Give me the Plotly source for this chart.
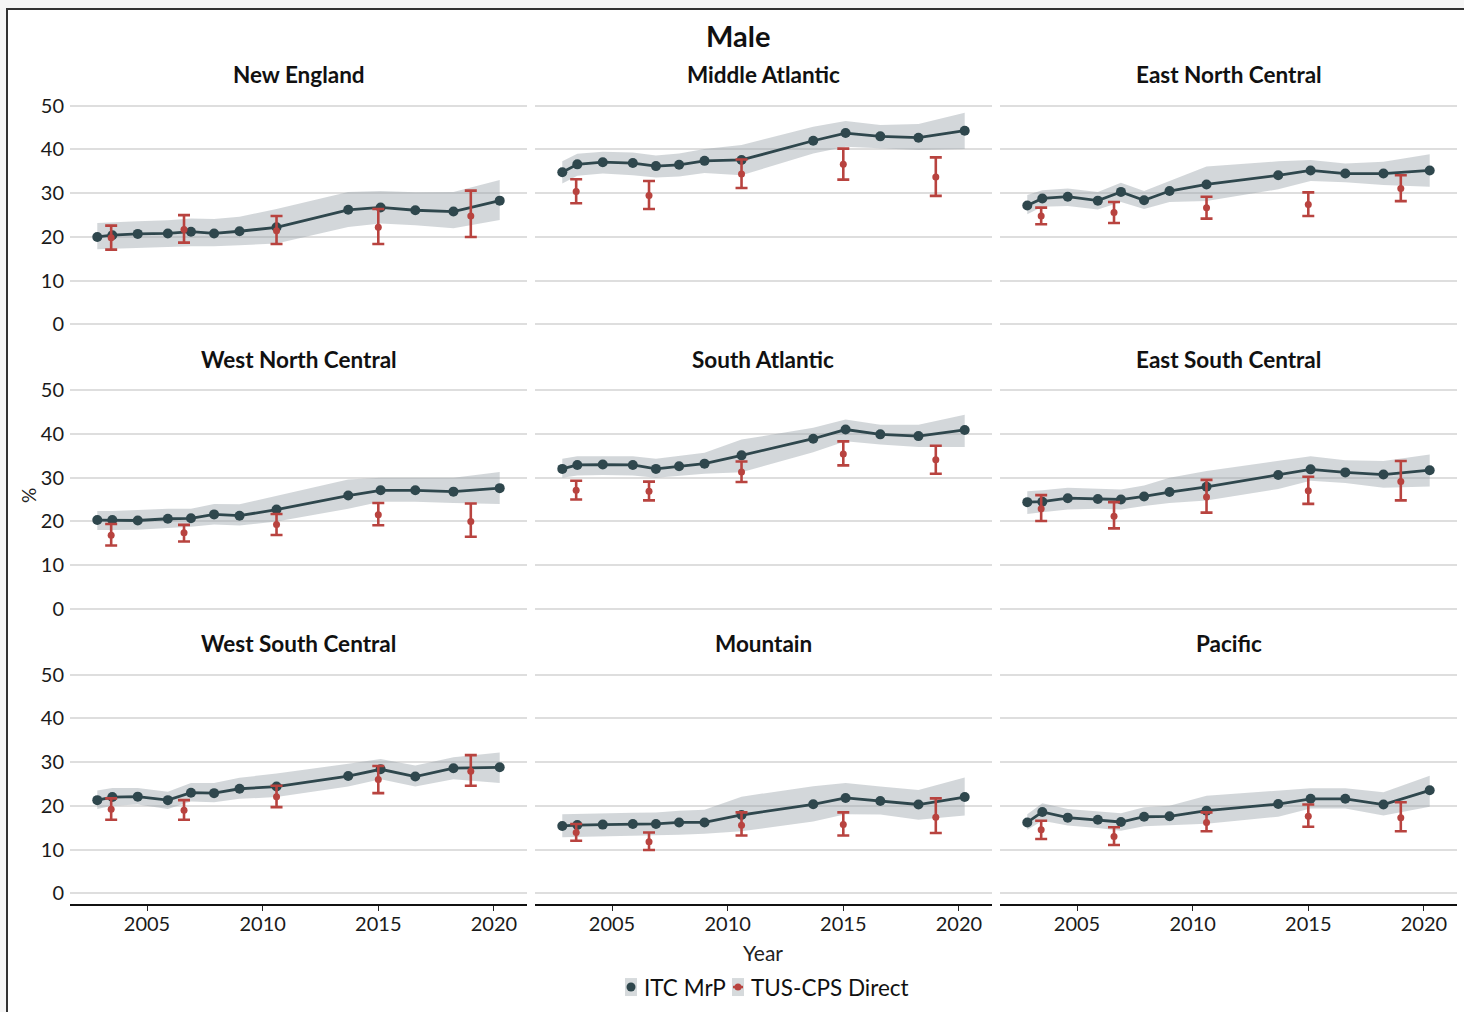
import plotly.graph_objects as go

# ---------------- data ----------------
regions = ["New England", "Middle Atlantic", "East North Central",
           "West North Central", "South Atlantic", "East South Central",
           "West South Central", "Mountain", "Pacific"]

mrp_years = [2002.85, 2003.5, 2004.6, 2005.9, 2006.9, 2007.9, 2009.0,
             2010.6, 2013.7, 2015.1, 2016.6, 2018.25, 2020.25]
cps_years = [2003.45, 2006.6, 2010.6, 2015.0, 2019.0]

mrp_est = [
    [20.0, 20.4, 20.7, 20.8, 21.2, 20.8, 21.3, 22.2, 26.2, 26.75, 26.1, 25.8, 28.3],
    [34.8, 36.6, 37.1, 36.9, 36.2, 36.5, 37.4, 37.6, 42.0, 43.75, 43.0, 42.7, 44.3],
    [27.2, 28.8, 29.2, 28.3, 30.3, 28.4, 30.5, 32.0, 34.1, 35.2, 34.5, 34.5, 35.2],
    [20.3, 20.3, 20.2, 20.6, 20.7, 21.6, 21.3, 22.7, 25.9, 27.1, 27.1, 26.8, 27.6],
    [32.0, 32.9, 33.0, 32.9, 32.0, 32.6, 33.2, 35.1, 38.9, 41.0, 39.9, 39.5, 40.9],
    [24.4, 24.5, 25.3, 25.1, 25.0, 25.7, 26.7, 27.9, 30.6, 31.9, 31.2, 30.7, 31.7],
    [21.3, 22.0, 22.1, 21.3, 23.0, 22.9, 23.9, 24.4, 26.8, 28.35, 26.7, 28.6, 28.8],
    [15.4, 15.6, 15.7, 15.85, 15.85, 16.2, 16.2, 17.9, 20.35, 21.8, 21.1, 20.3, 22.0],
    [16.2, 18.6, 17.3, 16.8, 16.3, 17.5, 17.6, 18.9, 20.4, 21.6, 21.6, 20.3, 23.55],
]
mrp_lo = [
    [17.2, 17.3, 17.5, 17.7, 17.9, 17.9, 18.1, 18.5, 22.3, 23.1, 22.7, 22.0, 23.9],
    [32.2, 34.0, 34.5, 34.1, 33.6, 33.8, 34.6, 34.1, 39.1, 40.6, 40.2, 39.9, 40.1],
    [25.2, 26.9, 27.1, 26.3, 28.0, 26.4, 28.0, 28.2, 30.9, 32.8, 32.5, 31.9, 31.5],
    [18.0, 18.0, 18.1, 18.5, 18.75, 19.3, 19.05, 20.0, 22.9, 24.5, 24.5, 24.2, 24.0],
    [30.0, 30.5, 30.6, 30.5, 30.0, 30.5, 30.9, 31.25, 35.8, 38.3, 37.6, 37.0, 37.0],
    [21.7, 22.1, 22.7, 22.9, 22.7, 23.5, 24.2, 24.8, 27.4, 29.3, 28.8, 27.7, 28.0],
    [19.3, 20.0, 20.3, 19.3, 21.0, 20.8, 21.6, 22.0, 24.4, 26.1, 24.4, 26.1, 25.2],
    [12.8, 12.9, 13.0, 13.2, 13.3, 13.4, 13.6, 14.2, 16.4, 18.1, 18.0, 16.8, 17.8],
    [14.5, 16.6, 15.5, 14.9, 14.3, 15.3, 15.5, 15.9, 17.5, 19.4, 19.4, 17.8, 19.8],
]
mrp_hi = [
    [23.2, 23.4, 23.6, 23.8, 24.2, 24.1, 24.6, 26.4, 30.3, 30.5, 30.2, 30.3, 33.0],
    [37.3, 39.0, 39.5, 39.3, 38.6, 39.1, 40.1, 41.0, 45.2, 46.5, 45.6, 45.8, 48.4],
    [29.6, 30.7, 31.1, 30.3, 32.4, 30.5, 32.8, 36.1, 37.3, 37.6, 36.8, 37.2, 38.9],
    [22.4, 22.4, 22.6, 22.9, 22.9, 24.0, 23.9, 25.9, 29.6, 30.0, 30.0, 30.0, 31.3],
    [34.3, 34.9, 34.9, 34.9, 34.3, 34.9, 35.7, 38.7, 41.4, 43.3, 42.1, 42.1, 44.4],
    [26.9, 27.1, 27.7, 27.4, 27.3, 28.2, 30.0, 31.5, 33.8, 34.9, 34.0, 33.8, 35.3],
    [23.5, 24.1, 24.1, 23.2, 25.2, 25.2, 26.4, 27.4, 29.6, 30.7, 29.2, 31.1, 32.2],
    [18.1, 18.2, 18.3, 18.4, 18.5, 18.9, 19.1, 22.1, 24.5, 25.2, 24.4, 23.6, 26.5],
    [18.1, 20.6, 19.3, 18.75, 18.3, 19.7, 20.0, 22.3, 23.5, 24.0, 24.0, 23.1, 26.9],
]

cps_est = [
    [19.8, 21.7, 21.4, 22.2, 24.8],
    [30.4, 29.5, 34.4, 36.6, 33.7],
    [24.8, 25.6, 26.7, 27.4, 31.1],
    [16.8, 17.4, 19.3, 21.5, 20.0],
    [27.1, 26.9, 31.3, 35.4, 34.1],
    [22.9, 21.2, 25.6, 27.0, 29.1],
    [19.2, 19.0, 22.1, 26.0, 27.9],
    [13.9, 11.8, 15.55, 15.7, 17.4],
    [14.5, 13.0, 16.2, 17.6, 17.3],
]
cps_lo = [
    [17.1, 18.7, 18.4, 18.4, 20.0],
    [27.7, 26.4, 31.2, 33.1, 29.4],
    [22.9, 23.2, 24.2, 24.8, 28.2],
    [14.5, 15.4, 16.9, 19.1, 16.5],
    [25.0, 24.8, 29.0, 32.8, 30.9],
    [20.1, 18.4, 22.0, 24.0, 24.8],
    [16.8, 16.8, 19.7, 22.9, 24.6],
    [12.0, 9.9, 13.2, 13.2, 13.8],
    [12.4, 11.05, 14.2, 15.2, 14.2],
]
cps_hi = [
    [22.6, 25.0, 24.8, 26.4, 30.6],
    [33.2, 32.8, 37.7, 40.2, 38.2],
    [26.7, 28.0, 29.2, 30.2, 34.1],
    [19.4, 19.2, 21.7, 24.2, 24.1],
    [29.3, 29.1, 33.7, 38.3, 37.3],
    [26.0, 24.4, 29.5, 30.2, 33.8],
    [21.7, 21.3, 24.6, 29.1, 31.6],
    [15.85, 13.9, 18.5, 18.5, 21.7],
    [16.6, 15.1, 18.5, 20.3, 20.8],
]

x_ticks = [2005, 2010, 2015, 2020]
y_ticks = [0, 10, 20, 30, 40, 50]
legend_labels = ["ITC MrP", "TUS-CPS Direct"]

# ---------------- style ----------------
W, H = 1464, 1012
FONT = "Lato, 'Open Sans', sans-serif"
DARK = "#2f474d"
RED = "#b8433f"
BAND = "rgba(150,160,166,0.42)"
GRID = "#dedede"
KEYBG = "#d6dadc"

col_px = [(70, 527), (535, 992), (1000, 1457)]
row_px = [(93, 334), (378, 619), (663, 904)]


def fx(px):
    return px / W


def fy(py):
    return 1 - py / H


fig = go.Figure()
layout = dict()
annotations = []

for i, name in enumerate(regions):
    r, c = divmod(i, 3)
    n = i + 1
    xa = "x" if n == 1 else f"x{n}"
    ya = "y" if n == 1 else f"y{n}"
    xkey = "xaxis" if n == 1 else f"xaxis{n}"
    ykey = "yaxis" if n == 1 else f"yaxis{n}"
    bottom = r == 2
    left = c == 0
    layout[xkey] = dict(
        domain=[fx(col_px[c][0]), fx(col_px[c][1])],
        anchor=ya, range=[2001.67, 2021.43],
        tickvals=x_ticks, showticklabels=bottom,
        ticks="outside" if bottom else "", ticklen=5, tickwidth=1.2, tickcolor="#222",
        showline=bottom, linecolor="#111", linewidth=1.5,
        showgrid=False, zeroline=False,
        tickfont=dict(size=20, color="#1a1a1a", family=FONT),
        ticklabelstandoff=-4,
        fixedrange=True,
    )
    layout[ykey] = dict(
        domain=[fy(row_px[r][1]), fy(row_px[r][0])],
        anchor=xa, range=[-2.5, 52.5],
        tickvals=y_ticks, showticklabels=left, ticks="",
        showgrid=True, gridcolor=GRID, gridwidth=2,
        zeroline=False, showline=False,
        tickfont=dict(size=20, color="#1a1a1a", family=FONT),
        ticklabelstandoff=5,
        fixedrange=True,
    )
    # band
    fig.add_trace(go.Scatter(
        x=mrp_years + mrp_years[::-1],
        y=mrp_hi[i] + mrp_lo[i][::-1],
        fill="toself", fillcolor=BAND, line=dict(width=0),
        mode="lines", hoverinfo="skip", showlegend=False,
        xaxis=xa, yaxis=ya,
    ))
    # MrP line
    fig.add_trace(go.Scatter(
        x=mrp_years, y=mrp_est[i], mode="lines+markers",
        line=dict(color=DARK, width=2.8),
        marker=dict(color=DARK, size=10),
        showlegend=False, xaxis=xa, yaxis=ya,
    ))
    # CPS direct
    fig.add_trace(go.Scatter(
        x=cps_years, y=cps_est[i], mode="markers",
        marker=dict(color=RED, size=7),
        error_y=dict(type="data", symmetric=False,
                     array=[h - e for h, e in zip(cps_hi[i], cps_est[i])],
                     arrayminus=[e - l for e, l in zip(cps_est[i], cps_lo[i])],
                     color=RED, thickness=2.6, width=6),
        showlegend=False, xaxis=xa, yaxis=ya,
    ))
    annotations.append(dict(
        text=f"<b>{name}</b>", x=fx((col_px[c][0] + col_px[c][1]) / 2),
        y=fy(row_px[r][0] - 20), xref="paper", yref="paper",
        xanchor="center", yanchor="middle", showarrow=False,
        font=dict(size=22.5, color="#111", family=FONT),
    ))

# ---- manual legend on a pixel-scaled overlay axis ----
key_x = [631, 738]
key_y = 987
text_x = [642, 749]
layout["xaxis10"] = dict(domain=[0, 1], range=[0, W], visible=False, fixedrange=True,
                         anchor="y10")
layout["yaxis10"] = dict(domain=[0, 1], range=[H, 0], visible=False, fixedrange=True,
                         anchor="x10")
fig.add_trace(go.Scatter(x=[key_x[0]], y=[key_y], mode="markers",
                         marker=dict(color=DARK, size=9), showlegend=False,
                         hoverinfo="skip", xaxis="x10", yaxis="y10"))
fig.add_trace(go.Scatter(x=[key_x[1]], y=[key_y], mode="markers",
                         marker=dict(color=RED, size=7), showlegend=False,
                         hoverinfo="skip", xaxis="x10", yaxis="y10"))
fig.add_trace(go.Scatter(x=[key_x[1] - 5, key_x[1] + 5], y=[key_y, key_y], mode="lines",
                         line=dict(color=RED, width=2.5), showlegend=False,
                         hoverinfo="skip", xaxis="x10", yaxis="y10"))
for tx, lab in zip(text_x, legend_labels):
    annotations.append(dict(text=lab, x=fx(tx), y=fy(key_y), xref="paper", yref="paper",
                            xanchor="left", yanchor="middle", showarrow=False,
                            font=dict(size=22.5, color="#111", family=FONT)))

annotations += [
    dict(text="<b>Male</b>", x=fx(738), y=fy(34), xref="paper", yref="paper",
         xanchor="center", yanchor="middle", showarrow=False,
         font=dict(size=29, color="#111", family=FONT)),
    dict(text="Year", x=fx(763), y=fy(952), xref="paper", yref="paper",
         xanchor="center", yanchor="middle", showarrow=False,
         font=dict(size=21, color="#222", family=FONT)),
    dict(text="%", x=fx(28), y=fy(495), xref="paper", yref="paper",
         xanchor="center", yanchor="middle", showarrow=False, textangle=-90,
         font=dict(size=19, color="#222", family=FONT)),
]

shapes = [
    dict(type="rect", xref="paper", yref="paper",
         x0=fx(7), x1=1.05, y0=-0.05, y1=fy(7),
         line=dict(color="#333333", width=2), fillcolor="white", layer="below"),
]
for kx in key_x:
    shapes.append(dict(type="rect", xref="paper", yref="paper",
                       x0=fx(kx - 6), x1=fx(kx + 6), y0=fy(key_y + 9), y1=fy(key_y - 9),
                       line=dict(width=0), fillcolor=KEYBG, layer="below"))

fig.update_layout(
    width=W, height=H,
    margin=dict(l=0, r=0, t=0, b=0),
    paper_bgcolor="#f6f6f6", plot_bgcolor="rgba(0,0,0,0)",
    font=dict(family=FONT, color="#111"),
    annotations=annotations, shapes=shapes,
    showlegend=False,
    **layout,
)

fig.write_html("out.html", config={"displayModeBar": False},
               post_script="document.body.style.margin='0px';")
